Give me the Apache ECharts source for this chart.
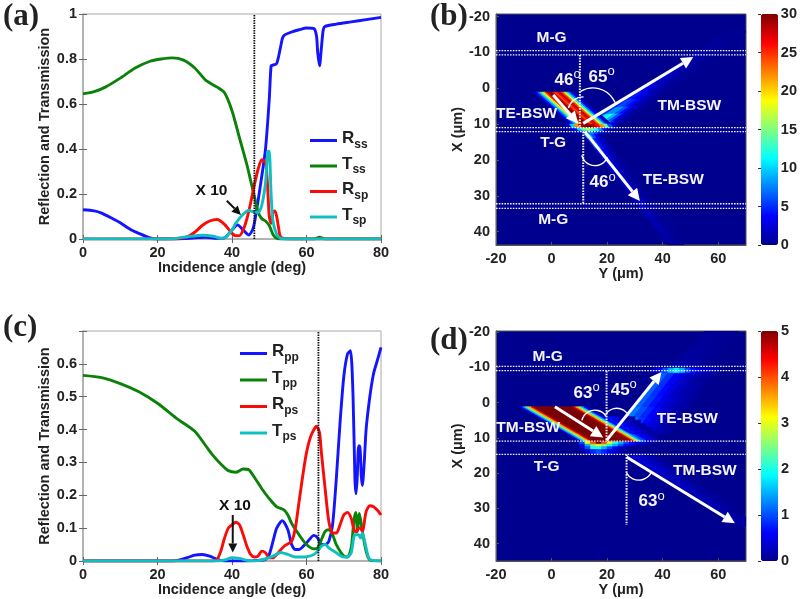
<!DOCTYPE html>
<html><head><meta charset="utf-8">
<style>html,body{margin:0;padding:0;background:#fff}#c{width:800px;height:599px;filter:blur(0.45px)}</style>
<script src="https://cdn.jsdelivr.net/npm/echarts@6/dist/echarts.min.js"></script>
</head><body><div id="c"></div>
<script>
// ---------- panel (a) curves: [angle, value]
const rss=[[0,.13],[3,.125],[5,.115],[8,.09],[10,.072],[13,.04],[15,.025],[18,.005],[20,0],[25,0],[30,.005],[33,.008],[36,.003],[38,.005],[40,.04],[41.5,.063],[43,.04],[44.5,.018],[45.5,.04],[46,.07],[47,.17],[48,.28],[49,.40],[50,.62],[50.5,.77],[51,.773],[52,.78],[53,.85],[53.5,.89],[54,.905],[56,.92],[58,.93],[60,.938],[62,.935],[62.7,.9],[63,.83],[63.5,.77],[64,.85],[64.5,.93],[65,.945],[68,.955],[72,.965],[76,.975],[80,.985]];
const tss=[[0,.645],[3,.655],[6,.675],[10,.715],[14,.76],[18,.79],[21,.80],[24,.805],[27,.795],[30,.76],[33,.705],[36,.675],[38,.65],[40,.57],[42,.45],[44,.33],[45,.26],[46,.19],[47,.12],[48,.09],[49,.08],[50,.06],[51,.02],[52,.003],[53,0],[62,0],[63.5,.008],[65,0],[80,0]];
const rsp=[[0,0],[24,0],[26,.003],[28,.01],[30,.03],[32,.06],[34,.08],[36,.087],[38,.065],[40,.025],[41,.015],[42,.015],[43,.04],[44,.09],[45,.16],[46,.24],[47,.31],[48,.352],[49,.34],[49.5,.25],[50,.1],[50.5,.07],[51,.12],[51.5,.125],[52,.1],[52.5,.05],[53,.01],[54,.002],[56,0],[80,0]];
const tsp=[[0,0],[22,0],[25,.003],[28,.01],[32,.017],[35,.012],[37,.003],[38,.005],[40,.04],[41,.07],[43,.11],[44.5,.127],[46,.12],[47,.118],[48,.15],[49,.25],[49.7,.39],[50,.39],[50.5,.2],[51,.08],[52,.02],[53,.003],[54,0],[80,0]];
// ---------- panel (c) curves
const rpp=[[0,0],[24,0],[26,.003],[28,.01],[30,.018],[32,.02],[34,.015],[36,.005],[38,0],[44,0],[47,.002],[49,.005],[50,.02],[51,.06],[52,.1],[53.5,.123],[55,.095],[56,.05],[57,.035],[58,.035],[60,.055],[62,.078],[63,.07],[64,.05],[65,.05],[66,.06],[67,.11],[68,.25],[69,.42],[70,.56],[71,.63],[71.8,.64],[72.5,.5],[73,.25],[73.3,.205],[73.6,.25],[74,.35],[74.3,.35],[74.7,.26],[75,.23],[75.5,.3],[76,.4],[77,.5],[78,.57],[79,.61],[80,.65]];
const tpp=[[0,.565],[5,.558],[10,.54],[15,.515],[20,.48],[25,.435],[30,.395],[33,.35],[35,.32],[37,.295],[39,.275],[41,.27],[43,.28],[44.5,.278],[46,.255],[48,.22],[50,.19],[52,.165],[54,.155],[55,.14],[56,.115],[58,.08],[60,.05],[62,.037],[63,.04],[64,.065],[65,.09],[66,.095],[67,.08],[68,.05],[70,.015],[71,.012],[72,.04],[72.7,.12],[73.2,.148],[73.7,.09],[74.2,.145],[75,.09],[76,.03],[77,.003],[80,0]];
const rps=[[0,0],[35,0],[36,.005],[37,.03],[38,.07],[39,.1],[40,.11],[41,.118],[42,.11],[43,.08],[44,.045],[45,.02],[46,.012],[47,.015],[48,.03],[49,.025],[50,.01],[51,.01],[52,.02],[54,.045],[56,.06],[57,.1],[58,.18],[59,.26],[60,.33],[61,.375],[62,.4],[62.7,.41],[63.5,.39],[64,.33],[65,.22],[66,.12],[67,.085],[68,.085],[69,.11],[70,.14],[71,.148],[72,.13],[73,.09],[73.5,.09],[74,.1],[74.5,.1],[75,.09],[76,.15],[77,.168],[78,.165],[79,.155],[80,.14]];
const tps=[[0,0],[36,0],[38,.003],[40,.01],[42,.008],[44,.002],[46,0],[48,.003],[50,.01],[52,.02],[53,.026],[55,.02],[57,.012],[60,.013],[62,.02],[63,.03],[64,.045],[65,.05],[66,.04],[68,.025],[70,.012],[71,.012],[72,.025],[73,.08],[74,.08],[74.5,.07],[75,.085],[76,.04],[77,.005],[80,0]];

const xTicks=[-20,-10,0,10,20,30,40];
const yTicks=[-20,0,20,40,60];
const cbarB=[0,30], cbarD=[0,5];

// ---------- field panels: each band: row edges in X, left Y of each edge, Y step, intensity per row
const bIncident={x:[1.1,10.2],start:[-6.7,6.6],step:.85,values:[[1,4,8,13,19,25,29,30,27,24,26,28,24,18,12,7,3,1]]};
const bHot={x:[10,11.1,12,12.6],start:[5,6,7],step:1.5,values:[[3,10,22,28,30,30,28,26,22,14,6,2],[1,4,10,14,16,14,12,8,4,1,0,0],[.5,1,3,6,8,6,3,1,.5,0,0,0]]};
const bOutTM={x:[10,9,7,5,3,1,-1,-4,-7,-10,-13,-16],start:[12.5,14.5,18.4,22.3,26.2,30.1,34,39.9,45.7,51.6,57.4,63.3],step:1.5,values:[[8,14,18,14,9,5,2,1],[6,11,12,9,6,3,1.5,.5],[5,8,8,6,4,2,1,.4],[4,6,5,4,2.5,1.5,.7,.3],[3,4.5,3.5,2.5,1.8,1,.5,.2],[2.5,3.5,2.5,1.8,1.2,.7,.3,.1],[2,2.5,1.8,1.2,.8,.5,.2,.1],[1.5,1.8,1.2,.8,.5,.3,.1,.1],[1,1.2,.8,.5,.3,.2,.1,0],[.4,.5,.4,.3,.2,.1,0,0],[.2,.3,.2,.1,.1,0,0,0]]};
const bOutTE={x:[12,14,17,20,24,28,32,36,40,44],start:[11,12.9,15.9,18.8,22.6,26.5,30.4,34.3,38.2,42],step:1.2,values:[[10,9,6,3,1.5,.5],[6,6,4,2,1,.3],[4,4,3,1.5,.7,.2],[3,3,2,1,.5,.2],[2,2,1.5,.8,.4,.1],[1.5,2,1.5,.7,.3,.1],[1.2,1.6,1,.5,.2,.1],[.8,1.2,.8,.4,.2,.1],[.4,.8,.6,.3,.1,0]]};

const dFringe={x:[4,5,6,7,8,9,10,10.9],start:[16,16,16,16,16,16,16],step:2,values:[[1.2,1,.7,.5,.3,.15,.1,0,0,0,0],[2.2,1.2,.9,.7,.5,.3,.15,.1,0,0,0],[3.5,1.8,1.2,1,.7,.5,.3,.15,.1,0,0],[5,3,1.5,1.2,.9,.7,.5,.3,.15,.1,0],[5,4,2.2,1.4,1.2,1,.7,.5,.3,.15,.1],[5,5,4,2.5,1.7,1.2,.9,.7,.5,.3,.15],[5,5,5,4.5,3,1.7,1.2,.9,.7,.5,.3]]};
const dIncident={x:[1.2,9,10.9],start:[-11.4,5.8,10],step:1,values:[[.5,1.5,2.5,3.5,4.5,5,5,5,5,5,5,5,5,5,5,5,5,5,5,4.5,3.5,2.5,1.5,.5],[.5,1.5,2.5,3.5,4.5,5,5,5,5,5,5,5,5,5,5,5,5,5,5,4.5,3.5,2.5,1.5,1]]};
const dBelow={x:[10.9,11.8,12.5,13.3,14.5],start:[10,10,10,10],step:2,values:[[1,3,4,5,4,3,2,1.5,1,.7,.5,.3,.2],[.5,1.5,2.5,3,2.5,2,1.5,1,.6,.3,.1,0,0],[.3,1,2,2,1.5,1,.6,.3,.1,0,0,0,0],[0,.3,.8,1,.8,.5,.3,.1,0,0,0,0,0]]};
const dOutTE={x:[9,7,4,1,-2,-5,-8.5],start:[22,24,27,30,33,36,39.5],step:2.5,values:[[1.5,1.2,.9,.7,.5,.35,.2,.1],[1.3,1.1,.85,.65,.45,.3,.15,.1],[1.2,1,.8,.6,.4,.3,.15,.1],[1.1,.9,.7,.5,.35,.25,.15,.1],[1.1,.85,.65,.45,.3,.2,.15,.05],[1.1,.85,.6,.4,.3,.15,.1,.05]]};
const dBright={x:[-9.8,-8.5],start:[36,36],step:2,values:[[.3,.6,1,1.5,1.8,1.5,1,.7,.5,.4,.3,.2]]};
const dFaintUp={x:[-10.3,-13,-16,-20.3],start:[42,46,50,55],step:2.5,values:[[.1,.12,.1,.08,.05],[.08,.1,.08,.05,.03],[.05,.08,.05,.03,.02]]};
const dOutTM={x:[15,20,25,30,35],start:[27,37,47,57],step:2,values:[[.3,.4,.3,.2,.1],[.2,.3,.2,.15,.05],[.15,.2,.15,.1,.05],[.1,.15,.1,.05,0]]};

const fieldBands={b:[bOutTM,bOutTE,bIncident,bHot],d:[dOutTE,dBright,dFaintUp,dOutTM,dFringe,dBelow,dIncident]};

// ---------- annotations, in data units
const overlayA=[{t:'dot',p:[[46,0],[46,1]],c:'#111'},{t:'arrow',p:[[38.6,.17],[42.4,.107]],c:'#111',w:2,h:9},{t:'text',p:[34.5,.215],s:'X 10',c:'#111'}];
const overlayC=[{t:'dot',p:[[63.2,0],[63.2,.7]],c:'#111'},{t:'arrow',p:[[40.2,.14],[40.2,.026]],c:'#111',w:2,h:9},{t:'text',p:[40.8,.167],s:'X 10',c:'#111'}];
const hLines=(xs)=>xs.map(x=>({t:'wdot',p:[[-20,x],[70,x]]}));
const overlayB=[...hLines([-10.5,-9.3,11,12.1,32.2,33.5]),
 {t:'wdot',p:[[10.2,-9.3],[10.2,11]],w:2},{t:'wdot',p:[[11.4,12.1],[11.4,32.2]],w:2},
 {t:'arrow',p:[[.6,1.9],[9.6,9.8]]},{t:'arrow',p:[[11.4,9.8],[51,-8.7]]},{t:'arrow',p:[[12,12.1],[31.8,31.4]]},
 {t:'arc',p:[11.3,6.6],r:15,a:[195,272]},{t:'arc',p:[14.9,6.6],r:24,a:[239,337]},{t:'arc',p:[15.6,17.8],r:13.5,a:[22,166]},
 {t:'text',p:[0,-14],s:'M-G'},{t:'text',p:[-9,7],s:'TE-BSW'},{t:'deg',p:[5.8,-2.3],s:'46'},{t:'deg',p:[18,-3.1],s:'65'},{t:'text',p:[49.6,4.9],s:'TM-BSW'},{t:'text',p:[.6,15.3],s:'T-G'},{t:'text',p:[43.8,25.4],s:'TE-BSW'},{t:'deg',p:[18.4,26.3],s:'46'},{t:'text',p:[.6,36.7],s:'M-G'}];
const overlayD=[...hLines([-10.3,-9.06,10.9,14.7]),
 {t:'wdot',p:[[19.8,-9],[19.8,10.7]],w:2},{t:'wdot',p:[[27,14.7],[27,34.7]],w:2},
 {t:'arrow',p:[[1.2,1.2],[18.6,9.9]]},{t:'arrow',p:[[19.8,10.7],[39.6,-8.7]]},{t:'arrow',p:[[27,15.4],[66,34.2]]},
 {t:'arc',p:[15.6,5.9],r:13.3,a:[193,326]},{t:'arc',p:[23.5,5.3],r:13,a:[211,321]},{t:'arc',p:[31.4,18],r:14,a:[25,153]},
 {t:'text',p:[-1.4,-13.1],s:'M-G'},{t:'deg',p:[12.6,-2.7],s:'63'},{t:'deg',p:[26,-3.5],s:'45'},{t:'text',p:[48.9,4.5],s:'TE-BSW'},{t:'text',p:[-8.4,7.1],s:'TM-BSW'},{t:'text',p:[-1.8,18.2],s:'T-G'},{t:'text',p:[55.2,19.4],s:'TM-BSW'},{t:'deg',p:[36,28.1],s:'63'}];

// ---------- chart construction
const FONT='"Liberation Sans",Arial,sans-serif';
const colors={R:'#1414ff',T:'#0a820a',Rx:'#fb0a0a',Tx:'#10c0c0'};
const jet=['#00008f','#0000ff','#0080ff','#00ffff','#80ff80','#ffff00','#ff8000','#ff0000','#800000'];
const lbl={fontFamily:FONT,fontWeight:'bold',fontSize:14.5,color:'#222'};
const frame={onZero:false,lineStyle:{color:'#a8a8a8',width:1.5}};
const darkLine={onZero:false,lineStyle:{color:'#555'}};

const grids=[
 {left:83,top:14,width:298,height:225},
 {left:496,top:14,width:250,height:231},
 {left:761,top:14,width:17,height:231},
 {left:83,top:331,width:298,height:230},
 {left:496,top:331,width:250,height:230},
 {left:761,top:331,width:17,height:230}
].map(g=>({...g,show:true,borderColor:'#a8a8a8',borderWidth:1,backgroundColor:'transparent'}));
grids[1].backgroundColor=grids[4].backgroundColor='#00008f';
grids[1].borderColor=grids[4].borderColor='#555';
grids[2].show=grids[5].show=false;

const inTick={inside:true,length:4,lineStyle:{color:'#666'}};
function angleAxis(i){return{gridIndex:i,type:'value',min:0,max:80,interval:20,name:'Incidence angle (deg)',nameLocation:'middle',nameGap:21,nameTextStyle:lbl,axisLabel:{...lbl,margin:6},axisLine:frame,axisTick:inTick,splitLine:{show:false}};}
function mirrorAngle(i){return{gridIndex:i,type:'value',position:'top',min:0,max:80,interval:20,axisLabel:{show:false},axisLine:{show:false},axisTick:inTick,splitLine:{show:false}};}
function mirrorRefl(i,max,step){return{gridIndex:i,type:'value',position:'right',min:0,max,interval:step,axisLabel:{show:false},axisLine:{show:false},axisTick:inTick,splitLine:{show:false}};}
function fieldYAxis(i){return{gridIndex:i,type:'value',min:-20,max:70,name:'Y (\u03bcm)',nameLocation:'middle',nameGap:21,nameTextStyle:lbl,axisLabel:{...lbl,margin:6,customValues:yTicks},axisLine:darkLine,axisTick:{inside:true,length:3,customValues:yTicks,lineStyle:{color:'#555'}},splitLine:{show:false}};}
function fieldXAxis(i,min,max){return{gridIndex:i,type:'value',inverse:true,min,max,name:'X (\u03bcm)',nameLocation:'middle',nameGap:27,nameTextStyle:lbl,axisLabel:{...lbl,margin:6,customValues:xTicks},axisLine:darkLine,axisTick:{inside:true,length:3,customValues:xTicks,lineStyle:{color:'#555'}},splitLine:{show:false}};}
function hiddenX(i){return{gridIndex:i,type:'value',min:0,max:1,show:false};}
function barAxis(i,r,step){return{gridIndex:i,type:'value',position:'right',min:r[0],max:r[1],interval:step,axisLabel:{...lbl,margin:3},axisLine:{show:false},axisTick:{inside:true,length:3,lineStyle:{color:'#333'}},splitLine:{show:false}};}

const xAxis=[angleAxis(0),fieldYAxis(1),hiddenX(2),angleAxis(3),fieldYAxis(4),hiddenX(5),mirrorAngle(0),mirrorAngle(3)];
const yAxis=[
 {gridIndex:0,type:'value',min:0,max:1,interval:.2,name:'Reflection and Transmission',nameLocation:'middle',nameGap:26,nameTextStyle:lbl,axisLabel:{...lbl,margin:6},axisLine:frame,axisTick:inTick,splitLine:{show:false}},
 fieldXAxis(1,-20.7,43.7),
 barAxis(2,cbarB,5),
 {gridIndex:3,type:'value',min:0,max:.7,interval:.1,name:'Reflection and Transmission',nameLocation:'middle',nameGap:26,nameTextStyle:lbl,axisLabel:{...lbl,margin:6,formatter:v=>v>.65?'':String(+v.toFixed(1))},axisLine:frame,axisTick:inTick,splitLine:{show:false}},
 fieldXAxis(4,-20.3,44.9),
 barAxis(5,cbarD,1),
 mirrorRefl(0,1,.2),mirrorRefl(3,.7,.1)
];

function lineSeries(name,data,color,i){return{name,type:'line',data,xAxisIndex:i,yAxisIndex:i,symbol:'none',smooth:.25,lineStyle:{color,width:2.9},itemStyle:{color},silent:true,animation:false};}
function cells(bands){
 const out=[];
 bands.forEach(b=>b.values.forEach((row,i)=>row.forEach((v,j)=>{
  if(v<=0)return;
  const l0=b.start[i]+j*b.step,l1=(i+1<b.start.length?b.start[i+1]:b.start[i]+(b.start[i]-(b.start[i-1]??b.start[i])))+j*b.step;
  out.push([l0,b.x[i],l0+b.step,b.x[i],l1+b.step,b.x[i+1],l1,b.x[i+1],v]);
 })));
 return out;
}
function fieldSeries(bands,i){return{type:'custom',xAxisIndex:i,yAxisIndex:i,clip:true,silent:true,animation:false,data:cells(bands),
 encode:{x:[0,2,4,6],y:[1,3,5,7]},
 renderItem(p,api){
  const pts=[0,2,4,6].map(k=>api.coord([api.value(k),api.value(k+1)]));
  const c=api.visual('color');
  return{type:'polygon',shape:{points:pts},style:{fill:c,stroke:c,lineWidth:.6}};
 }};}
function overlaySeries(items,i){return{type:'custom',xAxisIndex:i,yAxisIndex:i,clip:false,silent:true,animation:false,z:5,
 data:items.map(o=>Array.isArray(o.p[0])?o.p[0]:o.p),
 renderItem(p,api){
  const o=items[p.dataIndex];
  if(o.t==='dot'||o.t==='wdot'){
   const a=api.coord(o.p[0]),b=api.coord(o.p[1]);
   return{type:'line',shape:{x1:a[0],y1:a[1],x2:b[0],y2:b[1]},style:{stroke:o.c||'#fff',lineWidth:o.w||(o.t==='dot'?1.8:1.3),lineDash:o.t==='dot'?[1.5,1]:[1.6,1.2],opacity:o.t==='wdot'?.95:1}};
  }
  if(o.t==='arrow'){
   const a=api.coord(o.p[0]),b=api.coord(o.p[1]),c=o.c||'#fff',w=o.w||3,h=o.h||12;
   const L=Math.hypot(b[0]-a[0],b[1]-a[1]),ux=(b[0]-a[0])/L,uy=(b[1]-a[1])/L,m=[b[0]-ux*h,b[1]-uy*h],hw=h*.5;
   return{type:'group',children:[
    {type:'line',shape:{x1:a[0],y1:a[1],x2:m[0],y2:m[1]},style:{stroke:c,lineWidth:w}},
    {type:'polygon',shape:{points:[b,[m[0]-uy*hw,m[1]+ux*hw],[m[0]+uy*hw,m[1]-ux*hw]]},style:{fill:c}}]};
  }
  if(o.t==='arc'){
   const c=api.coord(o.p);
   return{type:'arc',shape:{cx:c[0],cy:c[1],r:o.r,startAngle:o.a[0]*Math.PI/180,endAngle:o.a[1]*Math.PI/180,clockwise:true},style:{stroke:'#fff',fill:'none',lineWidth:1.4}};
  }
  const c=api.coord(o.p),col=o.c||'#f4f4f4';
  if(o.t==='deg')return{type:'text',x:c[0],y:c[1],style:{text:'{a|'+o.s+'}{b|o}',align:'center',verticalAlign:'middle',rich:{a:{fontFamily:FONT,fontWeight:'bold',fontSize:17,fill:col,color:col},b:{fontFamily:FONT,fontSize:13,fill:col,color:col,padding:[0,0,11,0]}}}};
  return{type:'text',x:c[0],y:c[1],style:{text:o.s,fill:col,font:'bold 15.5px '+FONT,align:'center',verticalAlign:'middle'}};
 }};}

const series=[
 lineSeries('Rss',rss,colors.R,0),lineSeries('Tss',tss,colors.T,0),lineSeries('Rsp',rsp,colors.Rx,0),lineSeries('Tsp',tsp,colors.Tx,0),
 overlaySeries(overlayA,0),
 lineSeries('Rpp',rpp,colors.R,3),lineSeries('Tpp',tpp,colors.T,3),lineSeries('Rps',rps,colors.Rx,3),lineSeries('Tps',tps,colors.Tx,3),
 overlaySeries(overlayC,3),
 fieldSeries(fieldBands.b,1),overlaySeries(overlayB,1),
 fieldSeries(fieldBands.d,4),overlaySeries(overlayD,4)
];
const legendRich={m:{fontFamily:FONT,fontWeight:'bold',fontSize:17,color:'#222',padding:[0,0,4,0]},s:{fontFamily:FONT,fontWeight:'bold',fontSize:12,color:'#222',padding:[8,0,0,0]}};
function legend(names,left,top,gap){return{data:names,orient:'vertical',left,top,padding:0,itemWidth:27,itemHeight:3,itemGap:gap,selectedMode:false,icon:'rect',
 formatter:n=>'{m|'+n[0]+'}{s|'+n.slice(1)+'}',textStyle:{rich:legendRich}};}
function vm(i,r,left,top,h){return{type:'continuous',seriesIndex:i,dimension:8,min:r[0],max:r[1],calculable:false,hoverLink:false,left,top,padding:0,itemWidth:17,itemHeight:h,inRange:{color:jet},outOfRange:{color:jet[8]}};}
const panelTag=(s,x,y)=>({type:'text',left:x,top:y,style:{text:s,font:'bold 31px "Liberation Serif",serif',fill:'#222'}});

const chart=echarts.init(document.getElementById('c'),null,{renderer:'canvas'});
chart.setOption({animation:false,backgroundColor:'#fff',tooltip:{show:false},grid:grids,xAxis,yAxis,series,
 legend:[legend(['Rss','Tss','Rsp','Tsp'],310,130,5),legend(['Rpp','Tpp','Rps','Tps'],240,343,6)],
 visualMap:[vm(10,cbarB,761,14,231),vm(12,cbarD,761,331,230)],
 graphic:[panelTag('(a)',3,1),panelTag('(b)',430,1),panelTag('(c)',3,312),panelTag('(d)',430,325)]
});
</script></body></html>
